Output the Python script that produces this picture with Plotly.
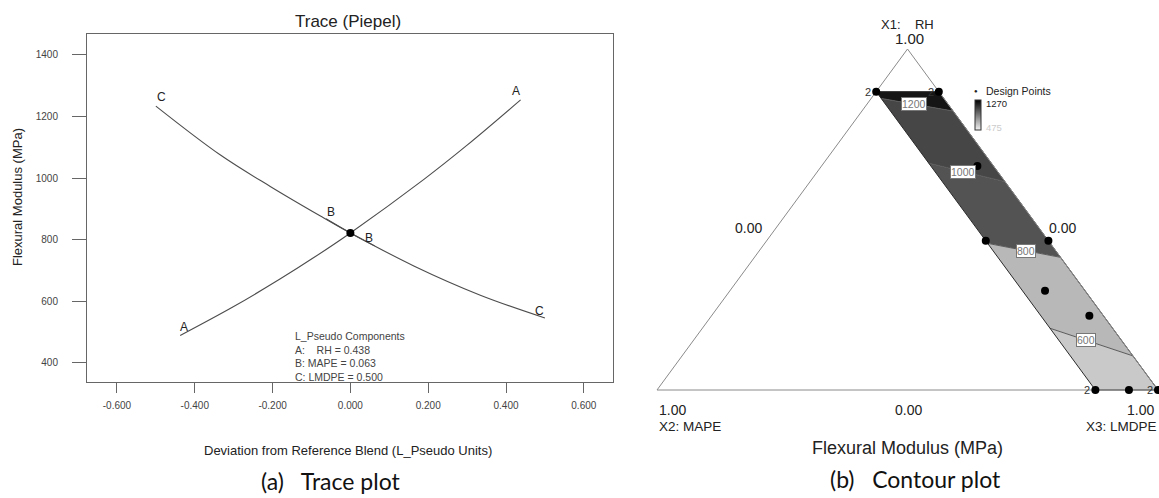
import plotly.graph_objects as go

W, H = 1159, 498

# ---------------- (a) Trace plot data ----------------
trace_a_x = [-0.4375, -0.30, -0.18, -0.094, 0.0, 0.189, 0.30, 0.4375]
trace_a_y = [489, 583, 673, 742, 822, 996, 1107, 1254]
trace_b_x = [-0.0625, 0.0, 0.0625]
trace_b_y = [868, 822, 780]
trace_c_x = [-0.50, -0.334, -0.206, -0.077, 0.0, 0.163, 0.334, 0.50]
trace_c_y = [1234, 1075, 973, 877, 822, 715, 620, 546]
ref_x = [0.0]
ref_y = [822]
x_tick_vals = [-0.6, -0.4, -0.2, 0.0, 0.2, 0.4, 0.6]
x_tick_text = ["-0.600", "-0.400", "-0.200", "0.000", "0.200", "0.400", "0.600"]
y_tick_vals = [400, 600, 800, 1000, 1200, 1400]
curve_labels = ["C", "A", "B", "B", "A", "C"]
curve_label_x = [-0.486, 0.425, -0.051, 0.049, -0.427, 0.486]
curve_label_y = [1264, 1283, 890, 806, 518, 570]
legend_lines = ["L_Pseudo Components", "A:    RH = 0.438", "B: MAPE = 0.063", "C: LMDPE = 0.500"]

# ---------------- (b) Contour plot data (RH, MAPE, LMDPE) ----------------
dp_rh = [0.875, 0.875, 0.657, 0.4375, 0.4375, 0.291, 0.218, 0.0, 0.0, 0.0]
dp_mape = [0.125, 0.0, 0.032, 0.125, 0.0, 0.080, 0.028, 0.125, 0.058, 0.0]
dp_lmdpe = [0.0, 0.125, 0.311, 0.4375, 0.5625, 0.629, 0.754, 0.875, 0.942, 1.0]
dp_reps = ["2", "2", "", "", "", "", "", "2", "", "2"]
strip_mape_max = 0.125
strip_rh_max = 0.875
contour_levels = [1200, 1000, 800, 600]
contour_rh_left = [0.855, 0.665, 0.430, 0.181]   # on MAPE = 0.125 edge
contour_rh_right = [0.818, 0.611, 0.389, 0.100]  # on MAPE = 0 edge
contour_label_t = [0.46, 0.45, 0.52, 0.43]
band_colors = ["#151515", "#464646", "#535353", "#b8b8b8", "#c9c9c9"]
scale_min, scale_max = 475, 1270

# ---------------- helpers (layout in pixels) ----------------
def fx(px):
    return px / W

def fy(py):
    return 1 - py / H

def proj(rh, mape, lm):
    return lm + rh / 2.0, rh

fig = go.Figure()

# ---- (a) curves ----
for xs, ys in [(trace_a_x, trace_a_y), (trace_c_x, trace_c_y), (trace_b_x, trace_b_y)]:
    fig.add_trace(go.Scatter(x=xs, y=ys, mode="lines", line=dict(color="#4d4d4d", width=1.1, shape="spline"),
                             showlegend=False, hoverinfo="skip", xaxis="x", yaxis="y"))
fig.add_trace(go.Scatter(x=ref_x, y=ref_y, mode="markers", marker=dict(color="black", size=8),
                         showlegend=False, xaxis="x", yaxis="y"))

annotations = []
for t, x, y in zip(curve_labels, curve_label_x, curve_label_y):
    annotations.append(dict(x=x, y=y, xref="x", yref="y", text=t, showarrow=False,
                            xanchor="center", yanchor="middle",
                            font=dict(family="Arial", size=12, color="#222")))
annotations.append(dict(x=-0.147, y=514, xref="x", yref="y", xanchor="left", yanchor="top",
                        text="<br>".join(legend_lines), showarrow=False, align="left",
                        font=dict(family="Arial", size=10.5, color="#444")))


def pa(x, y, text, size=13, xanchor="center", color="#222", family="Arial", angle=0):
    annotations.append(dict(x=fx(x), y=fy(y), xref="paper", yref="paper", text=text, showarrow=False,
                            xanchor=xanchor, yanchor="middle", textangle=angle,
                            font=dict(family=family, size=size, color=color)))


pa(348, 22, "Trace (Piepel)", 17)
pa(348, 450, "Deviation from Reference Blend (L_Pseudo Units)", 13)
pa(17, 197, "Flexural Modulus (MPa)", 13, angle=-90)
pa(331, 481, "(a)   Trace plot", 23, family="Lato", color="#111")

# ---- (b) ternary strip bands ----
def left_pt(r):
    return proj(r, strip_mape_max, 1 - r - strip_mape_max)

def right_pt(r):
    return proj(r, 0.0, 1 - r)

bl = [strip_rh_max] + contour_rh_left + [0.0]
br = [strip_rh_max] + contour_rh_right + [0.0]
for i, col in enumerate(band_colors):
    pts = [left_pt(bl[i]), right_pt(br[i]), right_pt(br[i + 1]), left_pt(bl[i + 1]), left_pt(bl[i])]
    fig.add_trace(go.Scatter(x=[p[0] for p in pts], y=[p[1] for p in pts], mode="lines", fill="toself",
                             fillcolor=col, line=dict(width=0), showlegend=False, hoverinfo="skip",
                             xaxis="x2", yaxis="y2"))
for lv, rl, rr in zip(contour_levels, contour_rh_left, contour_rh_right):
    a, b = left_pt(rl), right_pt(rr)
    fig.add_trace(go.Scatter(x=[a[0], b[0]], y=[a[1], b[1]], mode="lines",
                             line=dict(color="#5a5a5a", width=1), showlegend=False, hoverinfo="skip",
                             xaxis="x2", yaxis="y2"))
outline = [left_pt(strip_rh_max), right_pt(strip_rh_max), right_pt(0.0), left_pt(0.0), left_pt(strip_rh_max)]
fig.add_trace(go.Scatter(x=[p[0] for p in outline], y=[p[1] for p in outline], mode="lines",
                         line=dict(color="#2a2a2a", width=1), showlegend=False, hoverinfo="skip",
                         xaxis="x2", yaxis="y2"))
tri = [proj(1, 0, 0), proj(0, 1, 0), proj(0, 0, 1), proj(1, 0, 0)]
fig.add_trace(go.Scatter(x=[p[0] for p in tri], y=[p[1] for p in tri], mode="lines",
                         line=dict(color="#8a8a8a", width=1), showlegend=False, hoverinfo="skip",
                         xaxis="x2", yaxis="y2"))
dpx = [proj(r, m, l)[0] for r, m, l in zip(dp_rh, dp_mape, dp_lmdpe)]
dpy = [proj(r, m, l)[1] for r, m, l in zip(dp_rh, dp_mape, dp_lmdpe)]
fig.add_trace(go.Scatter(x=dpx, y=dpy, mode="markers", marker=dict(color="black", size=8),
                         cliponaxis=False, showlegend=False, xaxis="x2", yaxis="y2"))
for x, y, r in zip(dpx, dpy, dp_reps):
    if r:
        annotations.append(dict(x=x, y=y, xref="x2", yref="y2", text=r, showarrow=False,
                                xanchor="right", yanchor="middle", xshift=-3,
                                font=dict(family="Arial", size=11, color="#333")))
for lv, rl, rr, t in zip(contour_levels, contour_rh_left, contour_rh_right, contour_label_t):
    a, b = left_pt(rl), right_pt(rr)
    annotations.append(dict(x=a[0] + t * (b[0] - a[0]), y=a[1] + t * (b[1] - a[1]), xref="x2", yref="y2",
                            text=str(lv), showarrow=False, bgcolor="white", bordercolor="#777",
                            xanchor="center", yanchor="middle",
                            borderwidth=1, borderpad=0, font=dict(family="Arial", size=10.5, color="#777")))
fig.add_trace(go.Scatter(x=[0.5], y=[0.5], mode="markers", xaxis="x2", yaxis="y2",
                         marker=dict(size=1, opacity=0, color=[scale_min], cmin=scale_min, cmax=scale_max,
                                     colorscale=[[0, "#f2f2f2"], [1, "#000000"]], showscale=True,
                                     colorbar=dict(x=fx(975), xanchor="left", y=fy(100), yanchor="top",
                                                   len=30, lenmode="pixels", thickness=6, thicknessmode="pixels",
                                                   outlinewidth=1, outlinecolor="#333", showticklabels=False,
                                                   ticks="", xpad=0, ypad=0)),
                         showlegend=False, hoverinfo="skip"))

pa(907, 25, "X1:    RH", 13)
pa(909, 39, "1.00", 15)
pa(748, 228, "0.00", 14)
pa(1062, 228, "0.00", 14)
pa(657, 410, "1.00", 14, "left")
pa(657, 426, "X2: MAPE", 13.5, "left")
pa(908, 410, "0.00", 14)
pa(1156, 410, "1.00", 14, "right")
pa(1159, 426, "X3: LMDPE", 13.5, "right")
pa(907, 448, "Flexural Modulus (MPa)", 18)
pa(915, 479, "(b)   Contour plot", 23, family="Lato", color="#111")
pa(976, 91, "●", 6)
pa(984, 91, "Design Points", 10.5, "left")
pa(984, 103, "1270", 9.5, "left", "#222")
pa(984, 127, "475", 9.5, "left", "#cccccc")

X0, X1, Y0, Y1 = 657, 1158, 390, 49
dom_l, dom_r, dom_t, dom_b = 647, 1159, 38, 401
xr = [(dom_l - X0) / (X1 - X0), (dom_r - X0) / (X1 - X0)]
yr = [(Y0 - dom_b) / (Y0 - Y1), (Y0 - dom_t) / (Y0 - Y1)]

fig.update_layout(
    width=W, height=H, margin=dict(l=0, r=0, t=0, b=0),
    paper_bgcolor="white", plot_bgcolor="white",
    xaxis=dict(domain=[fx(87), fx(613)], range=[-0.677, 0.675], tickvals=x_tick_vals, ticktext=x_tick_text,
               showgrid=False, zeroline=False, showline=True, linecolor="#666", linewidth=1, mirror=True,
               ticks="outside", ticklen=10, tickcolor="#666", ticklabelstandoff=4,
               tickfont=dict(family="Arial", size=10, color="#444")),
    yaxis=dict(domain=[fy(382), fy(34)], range=[338, 1468], tickvals=y_tick_vals,
               showgrid=False, zeroline=False, showline=True, linecolor="#666", linewidth=1, mirror=True,
               ticks="outside", ticklen=14, tickcolor="#666", ticklabelstandoff=12,
               tickfont=dict(family="Arial", size=10, color="#444")),
    xaxis2=dict(domain=[fx(dom_l), fx(dom_r)], range=xr, visible=False),
    yaxis2=dict(domain=[fy(dom_b), fy(dom_t)], range=yr, visible=False),
    annotations=annotations,
)

fig.write_html("out.html", config={"displayModeBar": False},
               post_script="document.body.style.margin='0px';document.body.style.overflow='hidden';")
